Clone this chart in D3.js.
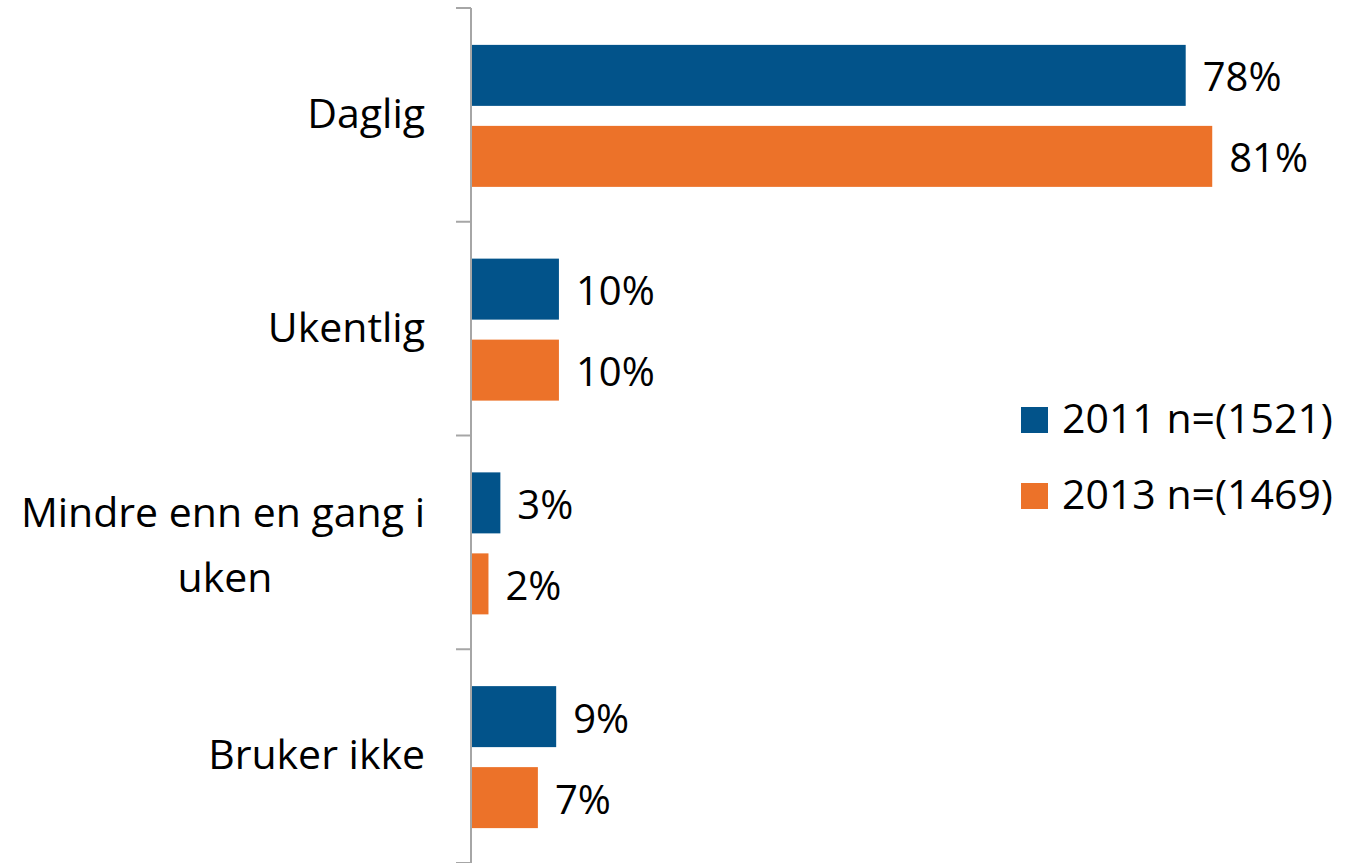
<!DOCTYPE html>
<html>
<head>
<meta charset="utf-8">
<script src="https://cdn.jsdelivr.net/npm/d3@7"></script>
<style>
  body { margin: 0; background: #fff; }
  text { font-family: "Open Sans", sans-serif; fill: #000; }
</style>
</head>
<body>
<div id="chartArea"></div>
<script>
// data
const categories = ["Daglig", "Ukentlig", "Mindre enn en gang i uken", "Bruker ikke"];
const catLines = [["Daglig"], ["Ukentlig"], ["Mindre enn en gang i", "uken"], ["Bruker ikke"]];
const seriesNames = ["2011 n=(1521)", "2013 n=(1469)"];
const values2011 = [78, 9.5, 3.1, 9.2];
const values2013 = [80.9, 9.5, 1.8, 7.2];

//colors
const blue = "#02538a";
const orange = "#ec7229";
const axisGrey = "#a6a6a6";

const W = 1346, H = 863;

const svg = d3.select("#chartArea").append("svg")
  .attr("width", W)
  .attr("height", H);

const x = d3.scaleLinear().domain([0, 100]).range([472, 1387]);
const y = d3.scaleBand().domain(categories).range([8, 863]);
// two bars per category, shifted 1px down to sit like the original
const ySub = d3.scaleBand().domain([0, 1])
  .range([1, y.bandwidth() + 1])
  .paddingInner(20 / 81)
  .paddingOuter(0.443);

const series = [values2011, values2013];
const colors = [blue, orange];

// bars
series.forEach((vals, s) => {
  svg.append("g").selectAll("rect")
    .data(vals)
    .enter()
    .append("rect")
      .attr("x", x(0))
      .attr("y", (d, i) => y(categories[i]) + ySub(s))
      .attr("width", d => x(d) - x(0))
      .attr("height", ySub.bandwidth())
      .attr("fill", colors[s]);

  // value labels
  svg.append("g").selectAll("text")
    .data(vals)
    .enter()
    .append("text")
      .attr("x", d => x(d) + 17)
      .attr("y", (d, i) => y(categories[i]) + ySub(s) + ySub.bandwidth() / 2 + 16)
      .attr("font-size", "40px")
      .text(d => Math.round(d) + "%");
});

// axis line + ticks at band edges
svg.append("line")
  .attr("x1", 471).attr("x2", 471)
  .attr("y1", y.range()[0]).attr("y2", y.range()[1])
  .attr("stroke", axisGrey).attr("stroke-width", 2);

const tickYs = categories.map(c => y(c)).concat([y.range()[1]]);
svg.append("g").selectAll("line")
  .data(tickYs)
  .enter()
  .append("line")
    .attr("x1", 456).attr("x2", 471)
    .attr("y1", d => d).attr("y2", d => d)
    .attr("stroke", axisGrey).attr("stroke-width", 2);

// category labels
catLines.forEach((lines, i) => {
  const cy = y(categories[i]) + y.bandwidth() / 2;
  if (lines.length === 1) {
    svg.append("text")
      .attr("x", 425)
      .attr("y", cy + 13)
      .attr("text-anchor", "end")
      .attr("font-size", "41px")
      .text(lines[0]);
  } else {
    svg.append("text")
      .attr("x", 425)
      .attr("y", cy - 15)
      .attr("text-anchor", "end")
      .attr("font-size", "41px")
      .text(lines[0]);
    svg.append("text")
      .attr("x", 225)
      .attr("y", cy + 50)
      .attr("text-anchor", "middle")
      .attr("font-size", "41px")
      .text(lines[1]);
  }
});

// legend
const legend = svg.append("g").selectAll("g")
  .data(seriesNames)
  .enter()
  .append("g")
    .attr("transform", (d, i) => "translate(1021," + (407 + i * 76) + ")");

legend.append("rect")
  .attr("width", 27).attr("height", 26)
  .attr("fill", (d, i) => colors[i]);

legend.append("text")
  .attr("x", 41)
  .attr("y", 26)
  .attr("font-size", "41px")
  .text(d => d);
</script>
</body>
</html>
